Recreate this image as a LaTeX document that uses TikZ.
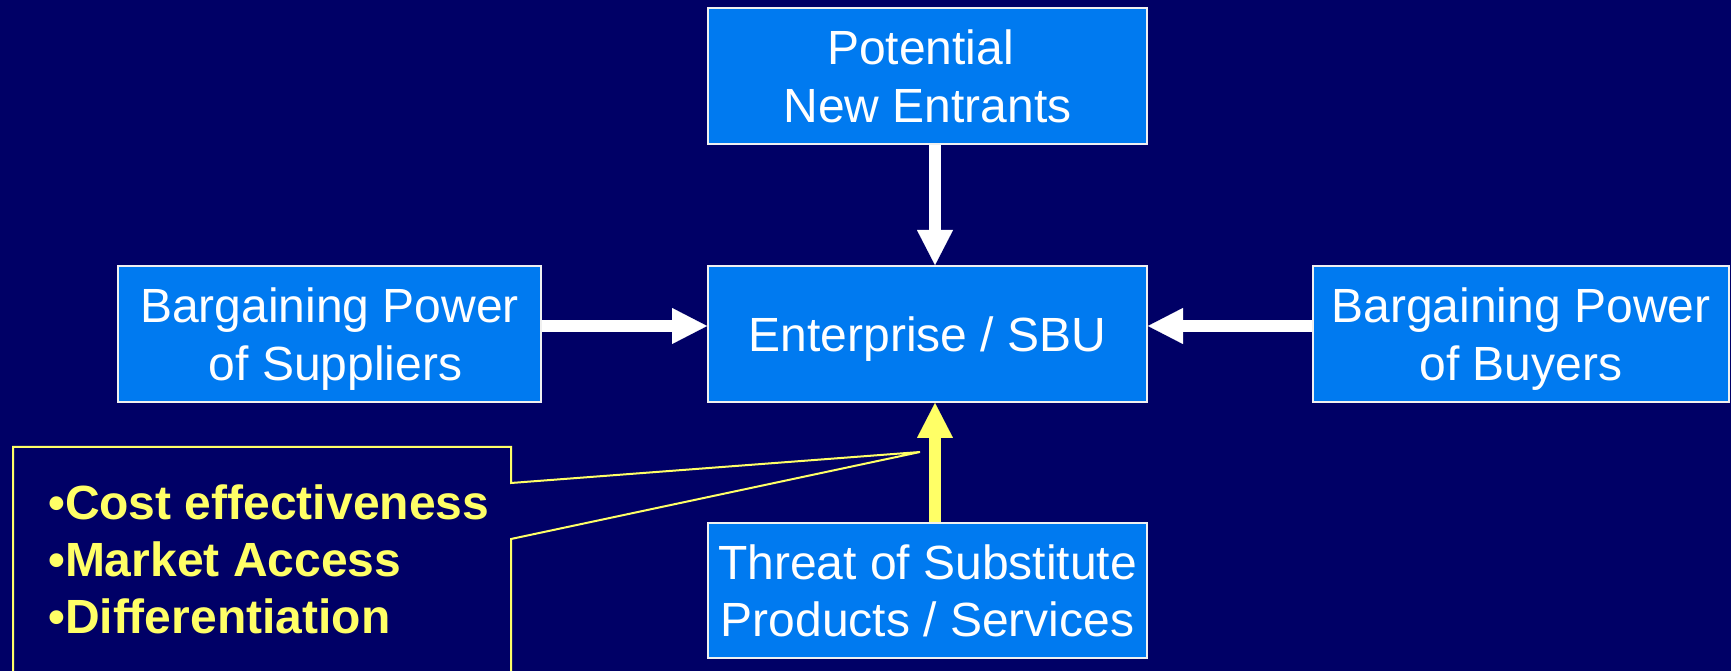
\documentclass[tikz,border=0pt]{standalone}
\usepackage{fontspec}
\setmainfont[Ligatures=NoCommon]{Liberation Sans}
\usetikzlibrary{arrows.meta}
\definecolor{navy}{RGB}{0,0,102}
\definecolor{boxblue}{RGB}{0,122,240}
\definecolor{paleyellow}{RGB}{255,255,102}
% a line whose descenders do not push the text block off centre
\newcommand\flatline[1]{\raisebox{0pt}[\height][0pt]{#1}}

\begin{document}
\begin{tikzpicture}[x=1pt,y=1pt,
  forcebox/.style={draw=white!88!gray, line width=2pt, fill=boxblue, text=white,
    inner sep=0pt, align=center, font=\fontsize{48}{57.6}\selectfont,
    minimum width=439pt, minimum height=136pt},
  fatarrow/.style={draw=white, line width=12pt,
    -{Triangle[width=36pt,length=35pt,line width=0.1pt]}},
  notetext/.style={text=paleyellow, inner sep=0pt, align=left,
    font=\fontsize{48}{57}\selectfont\bfseries},
]
\clip (0,0) rectangle (1731,671);
\fill[navy] (0,0) rectangle (1731,671);

% the five forces
\node[forcebox] (pne) at (927.5,595) {Potential\hspace*{14pt}\\\flatline{New Entrants}};
\node[forcebox] (ent) at (927.5,337) {\flatline{Enterprise / SBU}};
\node[forcebox, minimum width=423pt] (sup) at (329.5,337) {Bargaining Power\\\flatline{\hspace*{12pt}of Suppliers}};
\node[forcebox, minimum width=416pt] (buy) at (1521,337) {Bargaining Power\\\flatline{of Buyers}};
\node[forcebox, minimum height=135pt] (sub) at (927.5,80.5) {Threat of Substitute\\\flatline{Products / Services}};

% pressures on the enterprise
\draw[fatarrow] ([xshift=7.5pt]pne.south) -- ([xshift=7.5pt]ent.north);
\draw[fatarrow] ([yshift=8pt]sup.east) -- ([yshift=8pt]ent.west);
\draw[fatarrow] ([yshift=8pt]buy.west) -- ([yshift=8pt]ent.east);
\draw[fatarrow, draw=paleyellow] ([xshift=7.5pt]sub.north) -- ([xshift=7.5pt]ent.south);

% callout pointing at the substitutes arrow
\coordinate (pin) at (920,219);
\draw[paleyellow, line width=2pt, line join=miter]
  (13,-20) -- (13,224) -- (511,224) -- (511,188) -- (pin) -- (511,132) -- (511,-20);
\node[notetext, anchor=north west] (note) at (48,186)
  {•Cost effectiveness\\•Market Access\\•Differentiation};
\end{tikzpicture}
\end{document}
